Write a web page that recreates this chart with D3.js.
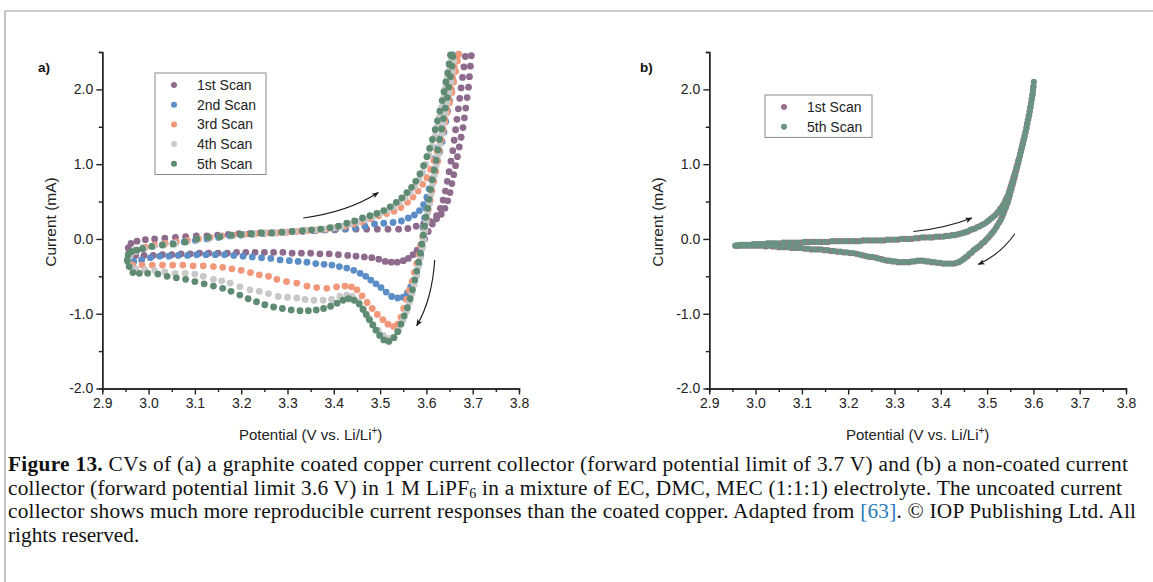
<!DOCTYPE html>
<html>
<head>
<meta charset="utf-8">
<script src="https://cdn.jsdelivr.net/npm/d3@7"></script>
<style>
  html, body { margin: 0; padding: 0; background: #fff; }
  svg { display: block; font-family: "Liberation Sans", Arial, sans-serif; }
</style>
</head>
<body>
<div id="chart"></div>
<script>
// =====================
// DATA  (potential in V, current in mA)
// =====================
const xTicks = [2.9, 3.0, 3.1, 3.2, 3.3, 3.4, 3.5, 3.6, 3.7, 3.8];
const yTicks = [-2.0, -1.0, 0.0, 1.0, 2.0];

// panel a) graphite coated copper
const scan1a = [
  [2.956,-0.12],[2.962,-0.06],[2.975,-0.03],[2.993,-0.01],[3.013,0.0],[3.035,0.01],[3.058,0.02],[3.08,0.03],[3.103,0.04],[3.126,0.04],
  [3.149,0.05],[3.172,0.06],[3.195,0.07],[3.218,0.07],[3.241,0.08],[3.264,0.08],[3.287,0.09],[3.31,0.10],[3.333,0.10],[3.356,0.11],
  [3.379,0.12],[3.402,0.12],[3.425,0.13],[3.448,0.13],[3.471,0.13],[3.494,0.13],[3.517,0.13],[3.54,0.13],[3.56,0.14],[3.578,0.17],
  [3.594,0.2],[3.609,0.23],[3.622,0.27],[3.632,0.33],[3.64,0.41],[3.646,0.51],[3.651,0.62],[3.655,0.74],[3.659,0.86],[3.663,0.98],
  [3.667,1.1],[3.671,1.23],[3.675,1.36],[3.679,1.49],[3.682,1.62],[3.685,1.75],[3.688,1.89],[3.691,2.03],[3.693,2.17],[3.695,2.31],
  [3.697,2.45],[3.684,2.44],[3.681,2.3],[3.678,2.16],[3.675,2.02],[3.672,1.88],[3.669,1.74],[3.666,1.6],[3.663,1.46],[3.66,1.32],
  [3.657,1.18],[3.653,1.04],[3.649,0.9],[3.645,0.77],[3.641,0.64],[3.636,0.52],[3.63,0.41],[3.622,0.31],[3.613,0.2],[3.604,0.1],
  [3.596,0.0],[3.588,-0.08],[3.58,-0.15],[3.571,-0.21],[3.561,-0.26],[3.55,-0.29],[3.537,-0.31],[3.524,-0.31],[3.511,-0.3],[3.497,-0.27],
  [3.482,-0.25],[3.466,-0.24],[3.448,-0.23],[3.43,-0.22],[3.41,-0.21],[3.39,-0.2],[3.37,-0.2],[3.35,-0.19],[3.33,-0.19],[3.31,-0.19],
  [3.29,-0.18],[3.27,-0.18],[3.25,-0.18],[3.23,-0.18],[3.21,-0.18],[3.19,-0.18],[3.17,-0.19],[3.15,-0.19],[3.13,-0.19],[3.11,-0.19],
  [3.09,-0.2],[3.07,-0.2],[3.05,-0.21],[3.03,-0.21],[3.01,-0.22],[2.99,-0.22],[2.972,-0.22],[2.958,-0.19]
];
const scan2a = [
  [2.955,-0.26],[2.96,-0.2],[2.972,-0.15],[2.988,-0.12],[3.008,-0.1],[3.03,-0.08],[3.053,-0.06],[3.077,-0.04],[3.101,-0.02],[3.126,0.0],
  [3.151,0.02],[3.176,0.04],[3.2,0.05],[3.224,0.06],[3.248,0.07],[3.271,0.08],[3.294,0.09],[3.316,0.10],[3.338,0.11],[3.36,0.11],
  [3.382,0.12],[3.404,0.13],[3.425,0.14],[3.446,0.15],[3.467,0.17],[3.488,0.20],[3.508,0.21],[3.528,0.22],[3.546,0.24],[3.561,0.28],
  [3.574,0.32],[3.585,0.38],[3.594,0.46],[3.601,0.56],[3.607,0.67],[3.613,0.79],[3.619,0.91],[3.624,1.04],[3.629,1.17],[3.634,1.3],
  [3.638,1.43],[3.642,1.57],[3.646,1.71],[3.65,1.85],[3.654,1.99],[3.657,2.13],[3.66,2.27],[3.663,2.41],[3.657,2.46],[3.654,2.33],
  [3.65,2.19],[3.646,2.05],[3.642,1.91],[3.638,1.77],[3.634,1.63],[3.63,1.49],[3.626,1.35],[3.622,1.21],[3.618,1.07],[3.614,0.93],
  [3.61,0.8],[3.606,0.67],[3.602,0.54],[3.599,0.41],[3.596,0.28],[3.593,0.15],[3.593,0.02],[3.591,-0.1],[3.588,-0.22],[3.584,-0.34],
  [3.579,-0.45],[3.573,-0.55],[3.566,-0.64],[3.559,-0.72],[3.55,-0.78],[3.538,-0.79],[3.525,-0.77],[3.513,-0.71],[3.502,-0.65],[3.491,-0.6],
  [3.48,-0.55],[3.469,-0.5],[3.457,-0.46],[3.443,-0.42],[3.428,-0.39],[3.412,-0.37],[3.396,-0.35],[3.379,-0.34],[3.361,-0.33],[3.342,-0.31],
  [3.323,-0.3],[3.304,-0.29],[3.284,-0.28],[3.264,-0.26],[3.244,-0.25],[3.224,-0.24],[3.204,-0.23],[3.184,-0.22],[3.164,-0.21],[3.144,-0.21],
  [3.124,-0.21],[3.104,-0.21],[3.084,-0.22],[3.064,-0.22],[3.044,-0.23],[3.024,-0.23],[3.004,-0.25],[2.985,-0.28],[2.968,-0.3]
];
const scan3a = [
  [2.955,-0.28],[2.962,-0.2],[2.975,-0.15],[2.993,-0.11],[3.013,-0.08],[3.036,-0.06],[3.06,-0.04],[3.084,-0.02],[3.108,0.0],[3.133,0.02],
  [3.158,0.04],[3.183,0.05],[3.207,0.06],[3.23,0.07],[3.253,0.08],[3.276,0.08],[3.298,0.09],[3.32,0.10],[3.342,0.11],[3.363,0.12],
  [3.384,0.13],[3.404,0.15],[3.424,0.17],[3.443,0.20],[3.461,0.23],[3.479,0.27],[3.497,0.31],[3.514,0.34],[3.53,0.37],[3.545,0.42],
  [3.559,0.49],[3.571,0.56],[3.582,0.64],[3.592,0.73],[3.601,0.82],[3.609,0.93],[3.616,1.05],[3.623,1.17],[3.629,1.3],[3.635,1.43],
  [3.64,1.56],[3.645,1.69],[3.65,1.82],[3.655,1.96],[3.659,2.1],[3.663,2.24],[3.667,2.38],[3.67,2.47],[3.664,2.44],[3.66,2.3],
  [3.656,2.16],[3.652,2.02],[3.648,1.88],[3.644,1.74],[3.64,1.6],[3.636,1.46],[3.632,1.32],[3.628,1.18],[3.624,1.04],[3.62,0.9],
  [3.616,0.77],[3.612,0.64],[3.608,0.51],[3.604,0.39],[3.6,0.27],[3.596,0.15],[3.592,0.03],[3.588,-0.09],[3.584,-0.21],[3.579,-0.33],
  [3.574,-0.45],[3.569,-0.57],[3.563,-0.69],[3.557,-0.81],[3.551,-0.93],[3.545,-1.05],[3.538,-1.14],[3.529,-1.17],[3.517,-1.14],[3.506,-1.08],
  [3.494,-1.01],[3.483,-0.93],[3.472,-0.85],[3.461,-0.76],[3.45,-0.68],[3.438,-0.64],[3.424,-0.63],[3.406,-0.64],[3.385,-0.66],[3.363,-0.65],
  [3.342,-0.63],[3.32,-0.59],[3.298,-0.57],[3.277,-0.54],[3.259,-0.5],[3.239,-0.48],[3.22,-0.45],[3.2,-0.42],[3.18,-0.4],[3.16,-0.38],
  [3.14,-0.37],[3.118,-0.36],[3.096,-0.36],[3.074,-0.35],[3.052,-0.35],[3.03,-0.35],[3.008,-0.35],[2.986,-0.35],[2.966,-0.35],[2.957,-0.32]
];
const scan4a = [
  [2.955,-0.3],[2.96,-0.22],[2.972,-0.17],[2.99,-0.13],[3.01,-0.1],[3.033,-0.08],[3.057,-0.06],[3.081,-0.04],[3.105,-0.01],[3.13,0.01],
  [3.155,0.03],[3.18,0.04],[3.203,0.06],[3.226,0.07],[3.249,0.08],[3.271,0.08],[3.293,0.09],[3.315,0.10],[3.337,0.11],[3.358,0.12],
  [3.378,0.13],[3.398,0.15],[3.417,0.17],[3.435,0.20],[3.452,0.23],[3.469,0.26],[3.485,0.3],[3.5,0.34],[3.515,0.38],[3.529,0.43],
  [3.542,0.49],[3.554,0.55],[3.565,0.62],[3.575,0.7],[3.584,0.79],[3.592,0.89],[3.599,1.0],[3.606,1.12],[3.612,1.24],[3.618,1.37],
  [3.623,1.5],[3.628,1.63],[3.633,1.76],[3.638,1.9],[3.642,2.03],[3.646,2.16],[3.65,2.29],[3.654,2.42],[3.659,2.38],[3.656,2.24],
  [3.653,2.1],[3.649,1.96],[3.645,1.82],[3.641,1.68],[3.637,1.54],[3.633,1.4],[3.629,1.26],[3.625,1.12],[3.621,0.98],[3.617,0.85],
  [3.613,0.72],[3.61,0.59],[3.607,0.47],[3.603,0.35],[3.6,0.23],[3.597,0.11],[3.594,-0.01],[3.591,-0.13],[3.587,-0.25],[3.583,-0.37],
  [3.579,-0.49],[3.574,-0.61],[3.569,-0.73],[3.563,-0.85],[3.557,-0.97],[3.549,-1.09],[3.54,-1.22],[3.529,-1.31],[3.518,-1.33],[3.507,-1.29],
  [3.496,-1.22],[3.485,-1.15],[3.475,-1.06],[3.464,-0.95],[3.453,-0.84],[3.44,-0.77],[3.428,-0.75],[3.413,-0.77],[3.395,-0.81],[3.377,-0.82],
  [3.357,-0.82],[3.338,-0.81],[3.32,-0.79],[3.30,-0.78],[3.28,-0.77],[3.259,-0.73],[3.239,-0.70],[3.219,-0.68],[3.197,-0.64],[3.176,-0.59],
  [3.158,-0.56],[3.14,-0.54],[3.118,-0.50],[3.1,-0.47],[3.079,-0.46],[3.057,-0.46],[3.035,-0.44],[3.013,-0.42],[2.992,-0.41],[2.972,-0.40],[2.96,-0.37]
];
const scan5a = [
  [2.956,-0.21],[2.963,-0.17],[2.975,-0.15],[2.987,-0.13],[3.007,-0.10],[3.03,-0.08],[3.053,-0.07],[3.079,-0.04],[3.104,0.0],[3.129,0.02],
  [3.154,0.03],[3.179,0.05],[3.20,0.06],[3.222,0.07],[3.244,0.08],[3.266,0.08],[3.288,0.09],[3.31,0.10],[3.332,0.11],[3.352,0.12],
  [3.372,0.13],[3.392,0.15],[3.41,0.17],[3.428,0.21],[3.445,0.24],[3.462,0.28],[3.478,0.31],[3.493,0.34],[3.508,0.38],[3.522,0.43],
  [3.535,0.49],[3.547,0.55],[3.558,0.62],[3.568,0.69],[3.577,0.77],[3.586,0.87],[3.594,0.98],[3.601,1.10],[3.607,1.21],[3.613,1.33],
  [3.619,1.46],[3.624,1.58],[3.629,1.71],[3.634,1.85],[3.638,1.97],[3.642,2.1],[3.646,2.22],[3.649,2.34],[3.652,2.46],[3.657,2.44],
  [3.655,2.31],[3.652,2.17],[3.648,2.03],[3.645,1.89],[3.641,1.75],[3.637,1.61],[3.633,1.47],[3.629,1.33],[3.625,1.19],[3.621,1.05],
  [3.617,0.92],[3.613,0.79],[3.609,0.66],[3.606,0.53],[3.603,0.41],[3.599,0.29],[3.596,0.17],[3.593,0.05],[3.590,-0.07],[3.587,-0.19],
  [3.583,-0.31],[3.579,-0.43],[3.575,-0.55],[3.570,-0.68],[3.565,-0.80],[3.559,-0.92],[3.552,-1.03],[3.545,-1.14],[3.538,-1.24],[3.53,-1.32],
  [3.519,-1.37],[3.508,-1.35],[3.499,-1.29],[3.491,-1.22],[3.484,-1.15],[3.477,-1.08],[3.470,-1.01],[3.463,-0.94],[3.455,-0.87],[3.444,-0.82],
  [3.432,-0.80],[3.420,-0.82],[3.407,-0.86],[3.393,-0.90],[3.378,-0.93],[3.362,-0.95],[3.345,-0.96],[3.327,-0.96],[3.308,-0.95],[3.289,-0.93],
  [3.27,-0.91],[3.251,-0.88],[3.233,-0.84],[3.215,-0.80],[3.197,-0.75],[3.178,-0.70],[3.16,-0.66],[3.14,-0.63],[3.12,-0.60],[3.10,-0.57],
  [3.08,-0.54],[3.06,-0.52],[3.04,-0.50],[3.02,-0.47],[2.998,-0.46],[2.98,-0.46],[2.966,-0.45],[2.958,-0.37],[2.954,-0.29]
];

// panel b) non-coated current collector
const scan1b = [
  [2.96,-0.09],[2.97,-0.08],[2.98,-0.08],[2.99,-0.08],[3.0,-0.07],[3.01,-0.07],[3.02,-0.07],[3.03,-0.06],[3.04,-0.06],[3.052,-0.06],
  [3.067,-0.05],[3.082,-0.05],[3.097,-0.05],[3.112,-0.04],[3.127,-0.04],[3.142,-0.04],[3.157,-0.04],[3.172,-0.03],[3.187,-0.03],[3.202,-0.03],
  [3.217,-0.03],[3.232,-0.02],[3.247,-0.02],[3.262,-0.02],[3.277,-0.02],[3.292,-0.01],[3.307,-0.01],[3.322,0.0],[3.337,0.0],[3.352,0.01],
  [3.367,0.02],[3.382,0.02],[3.397,0.03],[3.411,0.04],[3.424,0.05],[3.436,0.06],[3.448,0.08],[3.459,0.1],[3.469,0.13],[3.479,0.16],
  [3.489,0.19],[3.498,0.22],[3.506,0.26],[3.514,0.3],[3.522,0.35],[3.528,0.4],[3.534,0.45],[3.54,0.52],[3.545,0.58],[3.549,0.66],
  [3.553,0.74],[3.557,0.82],[3.561,0.9],[3.565,0.99],[3.569,1.08],[3.573,1.18],[3.577,1.28],[3.581,1.38],[3.585,1.49],[3.589,1.6],
  [3.592,1.71],[3.595,1.82],[3.598,1.93],[3.6,2.04],[3.599,1.98],[3.596,1.87],[3.593,1.76],[3.59,1.65],[3.586,1.54],[3.583,1.43],
  [3.579,1.32],[3.575,1.21],[3.571,1.11],[3.567,1.01],[3.563,0.91],[3.559,0.81],[3.555,0.72],[3.551,0.63],[3.547,0.54],[3.542,0.45],
  [3.537,0.37],[3.532,0.29],[3.526,0.22],[3.519,0.15],[3.511,0.08],[3.503,0.02],[3.494,-0.04],[3.485,-0.09],[3.476,-0.13],[3.467,-0.18],
  [3.458,-0.23],[3.449,-0.27],[3.439,-0.31],[3.428,-0.33],[3.416,-0.33],[3.404,-0.33],[3.392,-0.32],[3.38,-0.31],[3.368,-0.3],[3.356,-0.29],
  [3.344,-0.3],[3.332,-0.31],[3.32,-0.31],[3.308,-0.31],[3.296,-0.3],[3.284,-0.29],[3.272,-0.27],[3.259,-0.25],[3.246,-0.24],[3.232,-0.22],
  [3.218,-0.2],[3.204,-0.19],[3.19,-0.18],[3.176,-0.17],[3.162,-0.16],[3.148,-0.15],[3.134,-0.14],[3.12,-0.14],[3.106,-0.13],[3.092,-0.12],
  [3.078,-0.12],[3.064,-0.11],[3.05,-0.11],[3.036,-0.1],[3.022,-0.1],[3.008,-0.09],[2.994,-0.09],[2.98,-0.09],[2.966,-0.09]
];
const scan5b = [
  [2.956,-0.09],[2.965,-0.08],[2.975,-0.08],[2.985,-0.08],[2.995,-0.07],[3.005,-0.07],[3.015,-0.07],[3.025,-0.06],[3.035,-0.06],[3.045,-0.06],
  [3.06,-0.05],[3.075,-0.05],[3.09,-0.05],[3.105,-0.04],[3.12,-0.04],[3.135,-0.04],[3.15,-0.04],[3.165,-0.03],[3.18,-0.03],[3.195,-0.03],
  [3.21,-0.03],[3.225,-0.03],[3.24,-0.02],[3.255,-0.02],[3.27,-0.02],[3.285,-0.01],[3.3,-0.01],[3.315,0.0],[3.33,0.0],[3.345,0.01],
  [3.36,0.02],[3.375,0.02],[3.39,0.03],[3.405,0.03],[3.418,0.04],[3.43,0.05],[3.442,0.07],[3.453,0.09],[3.464,0.12],[3.474,0.14],
  [3.484,0.17],[3.493,0.2],[3.502,0.24],[3.51,0.28],[3.518,0.32],[3.525,0.37],[3.531,0.42],[3.537,0.48],[3.542,0.55],[3.547,0.62],
  [3.551,0.7],[3.555,0.78],[3.559,0.86],[3.563,0.95],[3.567,1.04],[3.571,1.13],[3.575,1.23],[3.579,1.33],[3.583,1.43],[3.587,1.54],
  [3.591,1.65],[3.594,1.76],[3.597,1.87],[3.599,1.98],[3.601,2.1],[3.6,2.03],[3.598,1.92],[3.595,1.81],[3.592,1.7],[3.588,1.59],
  [3.585,1.48],[3.581,1.37],[3.577,1.26],[3.573,1.16],[3.569,1.06],[3.565,0.96],[3.561,0.86],[3.557,0.76],[3.553,0.67],[3.549,0.58],
  [3.545,0.49],[3.54,0.41],[3.535,0.33],[3.529,0.25],[3.522,0.18],[3.515,0.11],[3.507,0.05],[3.498,-0.01],[3.489,-0.06],[3.48,-0.11],
  [3.471,-0.15],[3.462,-0.2],[3.453,-0.25],[3.444,-0.29],[3.434,-0.32],[3.422,-0.33],[3.41,-0.33],[3.398,-0.32],[3.386,-0.31],[3.374,-0.3],
  [3.362,-0.29],[3.35,-0.29],[3.338,-0.3],[3.326,-0.31],[3.314,-0.31],[3.302,-0.3],[3.29,-0.29],[3.278,-0.28],[3.265,-0.26],[3.252,-0.24],
  [3.239,-0.23],[3.225,-0.21],[3.211,-0.19],[3.197,-0.18],[3.183,-0.17],[3.169,-0.16],[3.155,-0.15],[3.141,-0.14],[3.127,-0.14],[3.113,-0.13],
  [3.099,-0.12],[3.085,-0.12],[3.071,-0.11],[3.057,-0.11],[3.043,-0.1],[3.029,-0.09],[3.015,-0.09],[3.001,-0.09],[2.987,-0.09],[2.973,-0.09],[2.96,-0.09]
];

// scan-direction arrows: [start, control, end] in data units
const arrowsA = [
  [[3.334, 0.28], [3.431, 0.36], [3.496, 0.62]],
  [[3.618, -0.28], [3.612, -0.82], [3.579, -1.16]]
];
const arrowsB = [
  [[3.341, 0.10], [3.409, 0.14], [3.467, 0.28]],
  [[3.560, 0.07], [3.528, -0.21], [3.481, -0.34]]
];

const seriesA = [
  { name: "1st Scan", color: "#8e6b8d", values: scan1a },
  { name: "2nd Scan", color: "#5b8ec6", values: scan2a },
  { name: "3rd Scan", color: "#f3977b", values: scan3a },
  { name: "4th Scan", color: "#c8c8c8", values: scan4a },
  { name: "5th Scan", color: "#5f8b73", values: scan5a }
];
const seriesB = [
  { name: "1st Scan", color: "#9a7192", values: scan1b },
  { name: "5th Scan", color: "#6a9381", values: scan5b }
];

// =====================
// SVG
// =====================
const W = 1153, H = 582;
const svg = d3.select("#chart").append("svg")
    .attr("width", W)
    .attr("height", H);

svg.append("defs").append("marker")
    .attr("id", "arrowhead")
    .attr("viewBox", "0 0 10 10")
    .attr("refX", 9).attr("refY", 5)
    .attr("markerWidth", 9).attr("markerHeight", 7)
    .attr("markerUnits", "userSpaceOnUse")
    .attr("orient", "auto")
    .append("path")
    .attr("d", "M0,1 L10,5 L0,9 L2.5,5 Z")
    .attr("fill", "#1a1a1a");

// page frame
svg.append("path")
    .attr("d", `M5,${H} L5,11 L${W},11`)
    .attr("fill", "none")
    .attr("stroke", "#9c9c9c")
    .attr("stroke-width", 1.2);

const fmt = d => d.toFixed(1);  // plain hyphen minus, as in the figure

function drawPanel(cfg) {
    const x = d3.scaleLinear().domain([2.9, 3.8]).range(cfg.xRange);
    const y = d3.scaleLinear().domain([-2.0, 2.5]).range([388.5, 52]);
    const g = svg.append("g");

    // minor ticks
    g.append("g")
        .attr("transform", "translate(0,388.5)")
        .call(d3.axisBottom(x).tickValues(xTicks.slice(0, -1).map(v => v + 0.05)).tickSize(3.5).tickFormat(""));
    g.append("g")
        .attr("transform", `translate(${cfg.xRange[0]},0)`)
        .call(d3.axisLeft(y).tickValues(yTicks.map(v => v + 0.5)).tickSize(3.5).tickFormat(""));

    // major axes
    g.append("g")
        .attr("transform", "translate(0,388.5)")
        .call(d3.axisBottom(x).tickValues(xTicks).tickFormat(fmt).tickSize(6).tickSizeOuter(0).tickPadding(4));
    g.append("g")
        .attr("transform", `translate(${cfg.xRange[0]},0)`)
        .call(d3.axisLeft(y).tickValues(yTicks).tickFormat(fmt).tickSize(6).tickSizeOuter(0).tickPadding(3));

    g.selectAll(".domain, .tick line").attr("stroke", "#222").attr("stroke-width", 1.4);
    g.selectAll(".tick text")
        .attr("fill", "#222")
        .style("font-size", "14px")
        .style("font-family", "Liberation Sans, Arial, sans-serif");

    // axis titles
    const xt = g.append("text")
        .attr("x", (cfg.xRange[0] + cfg.xRange[1]) / 2)
        .attr("y", 440)
        .attr("text-anchor", "middle")
        .attr("fill", "#222")
        .style("font-size", "15px");
    xt.append("tspan").text("Potential (V vs. Li/Li");
    xt.append("tspan").attr("dy", -6).style("font-size", "10px").text("+");
    xt.append("tspan").attr("dy", 6).text(")");

    g.append("text")
        .attr("transform", `translate(${cfg.xRange[0] - 46},222) rotate(-90)`)
        .attr("text-anchor", "middle")
        .attr("fill", "#222")
        .style("font-size", "15.5px")
        .text("Current (mA)");

    // panel label
    g.append("text")
        .attr("x", cfg.labelX)
        .attr("y", 72)
        .attr("fill", "#111")
        .style("font-size", "13.5px")
        .style("font-weight", "bold")
        .text(cfg.label);

    // scans
    cfg.series.forEach(s => {
        g.append("g")
            .attr("fill", s.color)
            .selectAll("circle")
            .data(s.values)
            .enter()
            .append("circle")
            .attr("cx", d => x(d[0]))
            .attr("cy", d => y(d[1]))
            .attr("r", cfg.r);
    });

    // arrows
    cfg.arrows.forEach(a => {
        const p = d3.path();
        p.moveTo(x(a[0][0]), y(a[0][1]));
        p.quadraticCurveTo(x(a[1][0]), y(a[1][1]), x(a[2][0]), y(a[2][1]));
        g.append("path")
            .attr("d", p.toString())
            .attr("fill", "none")
            .attr("stroke", "#1a1a1a")
            .attr("stroke-width", 1.1)
            .attr("marker-end", "url(#arrowhead)");
    });

    // legend
    const lg = g.append("g").attr("transform", `translate(${cfg.legend.x},${cfg.legend.y})`);
    lg.append("rect")
        .attr("width", cfg.legend.w)
        .attr("height", 19.7 * cfg.series.length + 3)
        .attr("fill", "#fff")
        .attr("stroke", "#8a8a8a")
        .attr("stroke-width", 1);
    cfg.series.forEach((s, i) => {
        const row = lg.append("g").attr("transform", `translate(0,${12 + i * 19.7})`);
        row.append("circle").attr("cx", 19).attr("cy", 0).attr("r", 3).attr("fill", s.color);
        row.append("text")
            .attr("x", 42)
            .attr("y", 5)
            .attr("fill", "#222")
            .style("font-size", "14px")
            .text(s.name);
    });
}

drawPanel({
    xRange: [102.3, 519], label: "a)", labelX: 38, r: 3.4,
    series: seriesA, arrows: arrowsA,
    legend: { x: 155, y: 73, w: 111 }
});
drawPanel({
    xRange: [709.3, 1126], label: "b)", labelX: 640, r: 3.1,
    series: seriesB, arrows: arrowsB,
    legend: { x: 765, y: 95, w: 107 }
});

// =====================
// CAPTION
// =====================
const cap = svg.append("g")
    .attr("fill", "#111");

function capLine(yPos, len) {
    const t = cap.append("text")
        .attr("x", 8)
        .attr("y", yPos)
        .style("font-family", "Liberation Serif, 'Times New Roman', serif")
        .style("font-size", "21.3px");
    if (len) t.attr("textLength", len).attr("lengthAdjust", "spacing");
    return t;
}

const l1 = capLine(471, 1120);
l1.append("tspan").style("font-weight", "bold").text("Figure 13.");
l1.append("tspan").text(" CVs of (a) a graphite coated copper current collector (forward potential limit of 3.7 V) and (b) a non-coated current");

const l2 = capLine(494.5, 1114);
l2.append("tspan").text("collector (forward potential limit 3.6 V) in 1 M LiPF");
l2.append("tspan").attr("dy", 3).style("font-size", "14px").text("6");
l2.append("tspan").attr("dy", -3).text(" in a mixture of EC, DMC, MEC (1:1:1) electrolyte. The uncoated current");

const l3 = capLine(518, 1128);
l3.append("tspan").text("collector shows much more reproducible current responses than the coated copper. Adapted from ");
l3.append("tspan").attr("fill", "#2b7bb9").text("[63]");
l3.append("tspan").text(". © IOP Publishing Ltd. All");

const l4 = capLine(541.5);
l4.append("tspan").text("rights reserved.");
</script>
</body>
</html>
